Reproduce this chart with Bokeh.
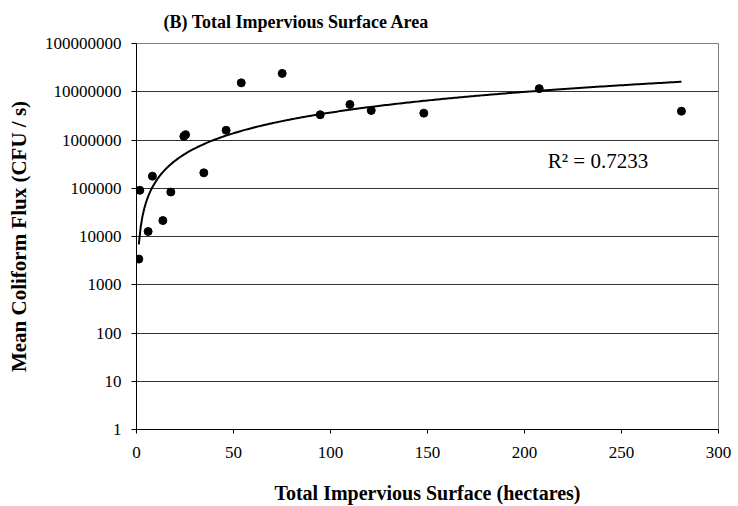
import numpy as np
from bokeh.plotting import figure
from bokeh.models import FixedTicker, Label
from bokeh.embed import file_html
from bokeh.resources import INLINE

# Data
impervious_ha = [1.2, 1.7, 6.0, 8.2, 13.6, 17.7, 24.4, 25.3, 34.7, 46.2, 54.0,
                 75.1, 94.7, 110.0, 121.0, 148.1, 207.6, 280.9]
coliform_flux = [3400, 90500, 12700, 178000, 21400, 83500, 1190000, 1290000,
                 209000, 1590000, 15300000, 24000000, 3340000, 5450000,
                 4100000, 3600000, 11600000, 3960000]
y_ticks = [1, 10, 100, 1000, 10000, 100000, 1000000, 10000000, 100000000]
y_tick_labels = ["1", "10", "100", "1000", "10000", "100000", "1000000",
                 "10000000", "100000000"]
x_ticks = [0, 50, 100, 150, 200, 250, 300]
r2_text = "R\u00b2 = 0.7233"
title_text = "(B) Total Impervious Surface Area"
y_title = "Mean Coliform Flux (CFU / s)"
x_title = "Total Impervious Surface (hectares)"

FONT = "Liberation Serif"

p = figure(width=738, height=506, y_axis_type="log",
           x_range=(0, 300), y_range=(1, 1e8),
           output_backend="svg", toolbar_location=None,
           min_border_left=136, min_border_right=20,
           min_border_top=43, min_border_bottom=75)

p.title.text = title_text
p.title.text_font = FONT
p.title.text_font_size = "18px"
p.title.text_font_style = "bold"
p.title.text_color = "black"
p.title.align = "left"
p.title.offset = 27
p.title.vertical_align = "top"
p.title.standoff = 19

p.outline_line_color = "#808080"
p.xgrid.grid_line_color = None
p.ygrid.grid_line_color = "#333333"
p.ygrid.grid_line_width = 1

# Axes
p.xaxis.ticker = FixedTicker(ticks=x_ticks)
p.yaxis.ticker = FixedTicker(ticks=y_ticks)
p.yaxis.major_label_overrides = {t: s for t, s in zip(y_ticks, y_tick_labels)}
for ax in (p.xaxis, p.yaxis):
    ax.axis_line_color = "black"
    ax.major_tick_line_color = "black"
    ax.minor_tick_line_color = None
    ax.major_tick_in = 0
    ax.major_label_text_font = FONT
    ax.major_label_text_font_size = "17px"
    ax.major_label_text_color = "black"
    ax.axis_label_text_font = FONT
    ax.axis_label_text_font_size = "20px"
    ax.axis_label_text_font_style = "bold"
    ax.axis_label_text_color = "black"
p.yaxis.axis_label_text_font_size = "21px"
p.xaxis.major_tick_out = 4
p.yaxis.major_tick_out = 5
p.xaxis.major_label_standoff = 13
p.yaxis.major_label_standoff = 10
p.xaxis.axis_label = x_title
p.yaxis.axis_label = y_title
p.xaxis.axis_label_standoff = 21
p.yaxis.axis_label_standoff = 11

# Power trendline fitted to the data (log-log least squares)
lx = np.log(np.array(impervious_ha))
ly = np.log(np.array(coliform_flux))
k, lnc = np.polyfit(lx, ly, 1)
xs = np.linspace(min(impervious_ha), max(impervious_ha), 300)
ys = np.exp(lnc) * xs ** k
p.line(xs, ys, line_color="black", line_width=2)

p.scatter(impervious_ha, coliform_flux, size=8, marker="circle",
          fill_color="black", line_color="black")

p.add_layout(Label(x=212, y=3.7e5, text=r2_text, text_font=FONT,
                   text_font_size="21px", text_color="black",
                   text_baseline="alphabetic"))

open("out.html", "w").write(file_html(p, INLINE))
